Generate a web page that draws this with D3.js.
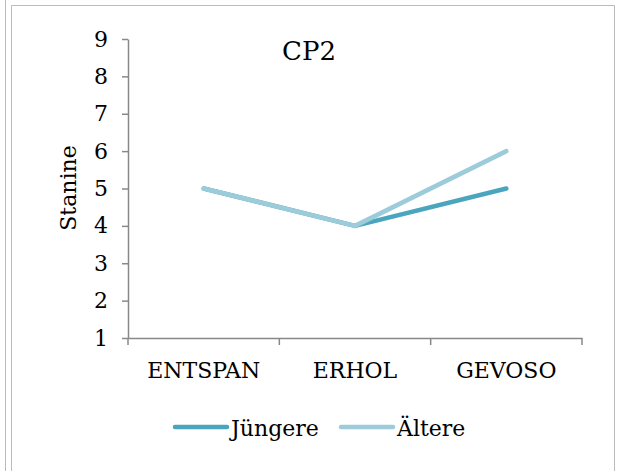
<!DOCTYPE html>
<html><head><meta charset="utf-8">
<script src="https://cdn.jsdelivr.net/npm/d3@7"></script>
<style>body{margin:0;background:#fff}svg{display:block}</style>
</head><body><svg id="c" width="617" height="471"></svg>
<script>
const categories = ["ENTSPAN", "ERHOL", "GEVOSO"];
const juengere = [5, 4, 5];
const aeltere = [5, 4, 6];
const yTicks = [1, 2, 3, 4, 5, 6, 7, 8, 9];
const seriesNames = ["Jüngere", "Ältere"];
const colors = ["#4BA5BE", "#9CCBDA"];
const FONT = "'DejaVu Serif', serif";

const svg = d3.select("#c");
svg.append("line").attr("x1",5.5).attr("x2",5.5).attr("y1",0).attr("y2",471).attr("stroke","#bbb");
svg.append("path").attr("d","M11.5,471V5.5H614.5V471").attr("fill","none").attr("stroke","#bbb");

const x = d3.scaleBand().domain(categories).range([128, 582]);
const y = d3.scaleLinear().domain([1, 9]).range([338, 39]);

const yAxis = svg.append("g").attr("transform","translate(128,0)")
  .call(d3.axisLeft(y).tickValues(yTicks).tickSize(6).tickSizeOuter(0).tickPadding(14));
yAxis.select(".domain").attr("stroke","#888").attr("stroke-width",1.5);
yAxis.selectAll(".tick line").attr("stroke","#888").attr("stroke-width",1.5);
yAxis.selectAll("text").style("font-size","22px").style("font-family",FONT).attr("fill","#000");

const xAxis = svg.append("g").attr("transform","translate(0,338)")
  .call(d3.axisBottom(x).tickSize(0).tickPadding(24));
xAxis.select(".domain").attr("stroke","#888").attr("stroke-width",1.5);
xAxis.selectAll("text").style("font-size","22px").style("font-family",FONT).attr("fill","#000");
const bounds = categories.map(c => x(c)).concat([x(categories[categories.length-1]) + x.bandwidth()]);
svg.append("g").selectAll("line").data(bounds).join("line")
  .attr("x1",d=>d).attr("x2",d=>d).attr("y1",338).attr("y2",345)
  .attr("stroke","#888").attr("stroke-width",1.5);

const line = d3.line().x((d,i)=>x(categories[i]) + x.bandwidth()/2).y(d=>y(d));
[juengere, aeltere].forEach((s,i)=>{
  svg.append("path").attr("d", line(s)).attr("fill","none")
    .attr("stroke", colors[i]).attr("stroke-width",4.5).attr("stroke-linecap","round").attr("stroke-linejoin","round");
});

svg.append("text").attr("x",309).attr("y",60).attr("text-anchor","middle").style("font-size","26px").style("font-family",FONT).text("CP2");
svg.append("text").attr("transform","translate(76,188) rotate(-90)").attr("text-anchor","middle").style("font-size","22px").style("font-family",FONT).text("Stanine");

const leg = [{x:173},{x:339}];
seriesNames.forEach((n,i)=>{
  const g = svg.append("g");
  g.append("line").attr("x1",leg[i].x+2).attr("x2",leg[i].x+54).attr("y1",427).attr("y2",427)
    .attr("stroke",colors[i]).attr("stroke-width",4.5).attr("stroke-linecap","round");
  g.append("text").attr("x",leg[i].x+58).attr("y",436).style("font-size","22px").style("font-family",FONT).text(n);
});
</script></body></html>
